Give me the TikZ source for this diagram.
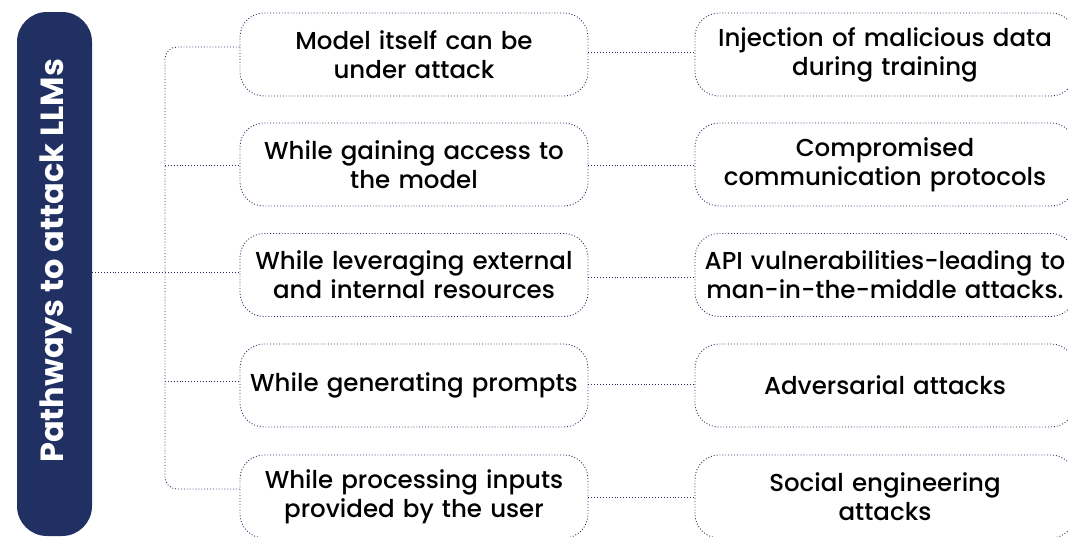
\documentclass[tikz,border=0pt]{standalone}
\usepackage{fontspec}
\setmainfont{Poppins Medium}[BoldFont=Poppins Bold]
\definecolor{navy}{HTML}{213063}
\tikzset{
  link/.style={draw=navy, line width=0.9pt, dotted},
  item/.style={draw=navy, line width=0.9pt, dotted, rounded corners=24pt,
    minimum height=83pt, align=center, font=\fontsize{24.5}{29}\selectfont,
    inner sep=0pt, text=black},
  leftitem/.style={item, minimum width=348pt, text width=345pt},
  rightitem/.style={item, minimum width=380pt, text width=376pt},
}
\begin{document}
\begin{tikzpicture}[x=1pt,y=-1pt]
\useasboundingbox (0,0) rectangle (1068,536);
\clip (0,0) rectangle (1068,536);
% title bar
\node[fill=navy, rounded corners=30pt, minimum width=75pt, minimum height=524pt,
  inner sep=0pt] (bar) at (54.5,274) {};
\node[rotate=90, text=white, font=\bfseries\fontsize{32}{36}\selectfont] (title) at (56,261) {Pathways to attack LLMs};
% left column
\node[leftitem] (l1) at (414,54.5) {Model itself can be\\under attack};
\node[leftitem] (l2) at (414,164.5) {While gaining access to\\the model};
\node[leftitem] (l3) at (414,275) {While leveraging external\\and internal resources};
\node[leftitem] (l4) at (414,385.5) {While generating prompts};
\node[leftitem] (l5) at (414,496.5) {While processing inputs\\provided by the user};
% right column
\node[rightitem] (r1) at (885,54.5) {Injection of malicious data\\during training};
\node[rightitem] (r2) at (885,164.5) {Compromised\\communication protocols};
\node[rightitem] (r3) at (885,275) {API vulnerabilities-leading to\\man-in-the-middle attacks.};
\node[rightitem] (r4) at (885,385.5) {Adversarial attacks};
\node[rightitem] (r5) at (885,496.5) {Social engineering\\attacks};
% tree
\coordinate (trunk) at (165,272);
\draw[link] (bar.east |- trunk) -- (trunk);
\draw[link, rounded corners=12pt] (l1.west |- 0,47) -- (165,47) -- (165,489) -- (l5.west |- 0,489);
\draw[link] (165,165) -- (l2.west |- 0,165);
\draw[link] (165,272) -- (l3.west |- 0,272);
\draw[link] (165,381) -- (l4.west |- 0,381);
% pairs
\draw[link] (l1.east |- 0,52) -- (r1.west |- 0,52);
\draw[link] (l2.east |- 0,165) -- (r2.west |- 0,165);
\draw[link] (l3.east |- 0,277) -- (r3.west |- 0,277);
\draw[link] (l4.east |- 0,384) -- (r4.west |- 0,384);
\draw[link] (l5.east |- 0,497) -- (r5.west |- 0,497);
\end{tikzpicture}
\end{document}
